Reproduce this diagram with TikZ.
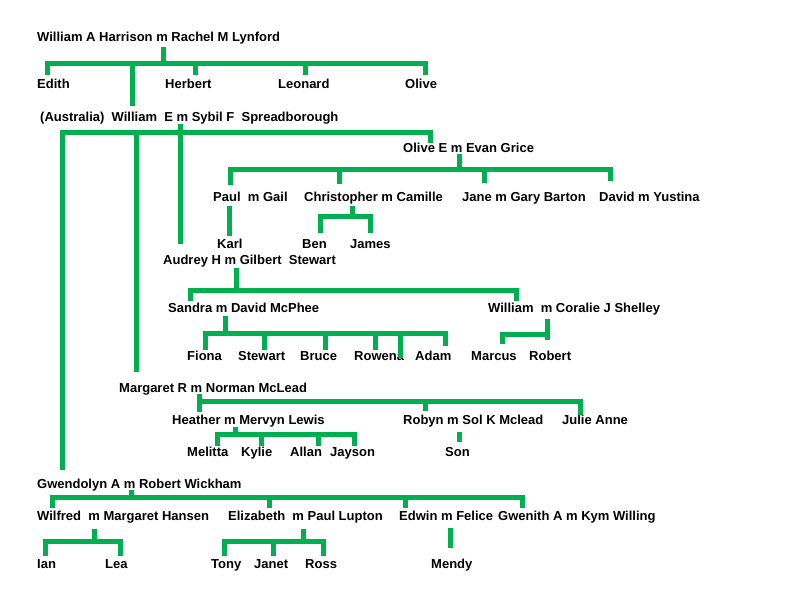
\documentclass[tikz,border=0pt]{standalone}
\usepackage{fontspec}
\setmainfont{Liberation Sans}
\definecolor{treegreen}{RGB}{0,176,80}
\tikzset{
  person/.style={anchor=base west,yshift=-4.5pt,inner sep=0pt,font=\bfseries\fontsize{13}{15}\selectfont},
  link/.style={draw=treegreen,line width=5pt}
}
\begin{document}
\begin{tikzpicture}[x=1pt,y=-1pt]
 \useasboundingbox (0,0) rectangle (800,600);

 % first generation
 \node[person] (wah) at (37,37) {William A Harrison m Rachel M Lynford};
 \node[person] (edith) at (37,84) {Edith};
 \node[person] (herbert) at (165,84) {Herbert};
 \node[person] (leonard) at (278,84) {Leonard};
 \node[person] (olive) at (405,84) {Olive};
 \node[person] (wes) at (40,117) {(Australia)\ \ William\ \ E m Sybil F\ \ Spreadborough};

 \draw[link] (163,47) -- (163,63);
 \draw[link] (47,75) -- (47,63) -- (425,63) -- (425,75);
 \draw[link] (195,63) -- (195,75);
 \draw[link] (305,63) -- (305,75);
 \draw[link] (132,63) -- (132,106);

 % children of William E
 \draw[link] (180,124) -- (180,244);
 \draw[link] (62,470) -- (62,132) -- (430,132) -- (430,143);
 \draw[link] (136,132) -- (136,372);

 % Olive E
 \node[person] (oeg) at (403,148) {Olive E m Evan Grice};
 \node[person] (paul) at (213,197) {Paul\ \ m Gail};
 \node[person] (chris) at (304,197) {Christopher m Camille};
 \node[person] (jane) at (462,197) {Jane m Gary Barton};
 \node[person] (david) at (599,197) {David m Yustina};
 \node[person] (karl) at (217,244) {Karl};
 \node[person] (ben) at (302,244) {Ben};
 \node[person] (james) at (350,244) {James};

 \draw[link] (459,154) -- (459,169);
 \draw[link] (230,185) -- (230,169) -- (610,169) -- (610,181);
 \draw[link] (339,169) -- (339,184);
 \draw[link] (484,169) -- (484,183);
 \draw[link] (229,206) -- (229,236);
 \draw[link] (352,206) -- (352,216);
 \draw[link] (320,233) -- (320,216) -- (370,216) -- (370,233);

 % Audrey H
 \node[person] (ahg) at (163,260) {Audrey H m Gilbert\ \ Stewart};
 \node[person] (sandra) at (168,308) {Sandra m David McPhee};
 \node[person] (wcs) at (488,308) {William\ \ m Coralie J Shelley};
 \node[person] (fiona) at (187,356) {Fiona};
 \node[person] (stewart) at (238,356) {Stewart};
 \node[person] (bruce) at (300,356) {Bruce};
 \node[person] (rowena) at (354,356) {Rowena};
 \node[person] (adam) at (415,356) {Adam};
 \node[person] (marcus) at (471,356) {Marcus};
 \node[person] (robert) at (529,356) {Robert};

 \draw[link] (236,268) -- (236,290);
 \draw[link] (190,301) -- (190,290) -- (516,290) -- (516,301);
 \draw[link] (225,316) -- (225,333);
 \draw[link] (205,350) -- (205,333) -- (445,333) -- (445,346);
 \draw[link] (264,333) -- (264,350);
 \draw[link] (325,333) -- (325,350);
 \draw[link] (375,333) -- (375,350);
 \draw[link] (400,333) -- (400,358);
 \draw[link] (547,319) -- (547,340);
 \draw[link] (502,344) -- (502,334) -- (547,334);

 % Margaret R
 \node[person] (mrn) at (119,388) {Margaret R m Norman McLead};
 \node[person] (heather) at (172,420) {Heather m Mervyn Lewis};
 \node[person] (robyn) at (403,420) {Robyn m Sol K Mclead};
 \node[person] (julie) at (562,420) {Julie Anne};
 \node[person] (melitta) at (187,452) {Melitta};
 \node[person] (kylie) at (241,452) {Kylie};
 \node[person] (allan) at (290,452) {Allan};
 \node[person] (jayson) at (330,452) {Jayson};
 \node[person] (son) at (445,452) {Son};

 \draw[link] (199,412) -- (199,401) -- (580,401) -- (580,415);
 \draw[link] (199,394) -- (199,401);
 \draw[link] (425,401) -- (425,411);
 \draw[link] (235,427) -- (235,434);
 \draw[link] (217,446) -- (217,434) -- (354,434) -- (354,446);
 \draw[link] (261,434) -- (261,446);
 \draw[link] (318,434) -- (318,446);
 \draw[link] (459,432) -- (459,442);

 % Gwendolyn A
 \node[person] (gaw) at (37,484) {Gwendolyn A m Robert Wickham};
 \node[person] (wilfred) at (37,516) {Wilfred\ \ m Margaret Hansen};
 \node[person] (eliz) at (228,516) {Elizabeth\ \ m Paul Lupton};
 \node[person] (edwin) at (399,516) {Edwin m Felice};
 \node[person] (gwenith) at (498,516) {Gwenith A m Kym Willing};
 \node[person] (ian) at (37,564) {Ian};
 \node[person] (lea) at (105,564) {Lea};
 \node[person] (tony) at (211,564) {Tony};
 \node[person] (janet) at (254,564) {Janet};
 \node[person] (ross) at (305,564) {Ross};
 \node[person] (mendy) at (431,564) {Mendy};

 \draw[link] (131,490) -- (131,497);
 \draw[link] (52,508) -- (52,497) -- (522,497) -- (522,508);
 \draw[link] (269,497) -- (269,508);
 \draw[link] (405,497) -- (405,508);
 \draw[link] (94,529) -- (94,541);
 \draw[link] (45,556) -- (45,541) -- (120,541) -- (120,556);
 \draw[link] (303,529) -- (303,541);
 \draw[link] (224,556) -- (224,541) -- (323,541) -- (323,556);
 \draw[link] (273,541) -- (273,556);
 \draw[link] (450,528) -- (450,548);
\end{tikzpicture}
\end{document}
